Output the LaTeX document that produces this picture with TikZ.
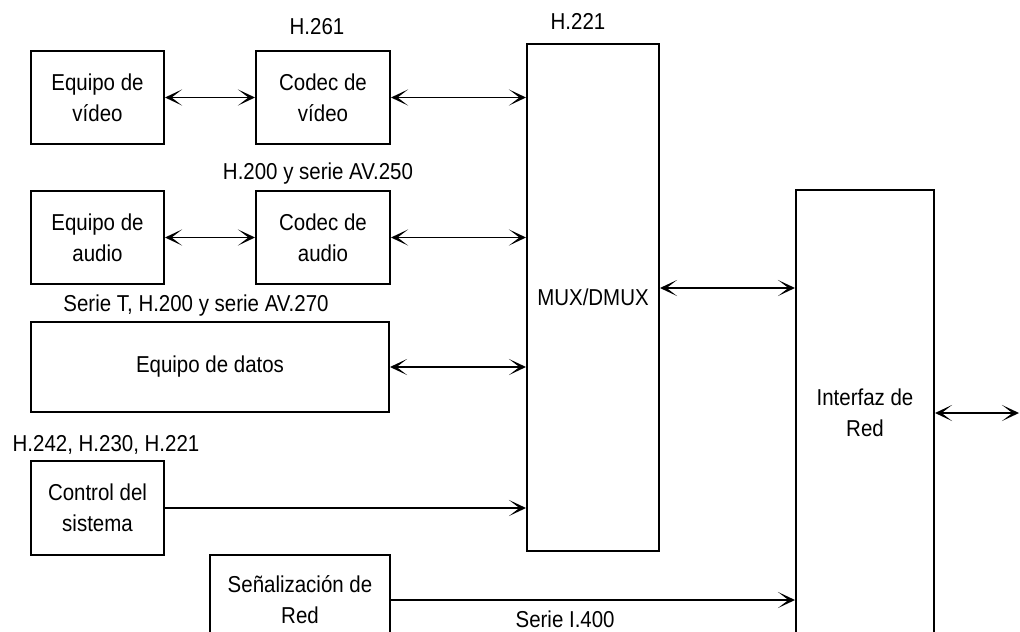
\documentclass[tikz,border=0pt]{standalone}
\usepackage{fontspec}
\setmainfont{Liberation Sans}[FakeStretch=0.89]
\usetikzlibrary{arrows.meta}
\tikzset{
  blk/.style={rectangle, draw=black, line width=1pt, align=center, inner sep=0pt,
              font=\fontsize{11.5}{15.5}\selectfont},
  tag/.style={font=\fontsize{11.5}{12}\selectfont, inner sep=0pt, anchor=base},
  fl/.style={-{Stealth[length=8.5pt,width=8pt,inset=5.2pt]}, line width=0.95pt},
  fla/.style={{Stealth[length=8.5pt,width=8pt,inset=5.2pt]}-{Stealth[length=8.5pt,width=8pt,inset=5.2pt]}, line width=0.95pt}
}

\begin{document}
\begin{tikzpicture}[x=0.5pt, y=-0.5pt]
  \clip (0,0) rectangle (1020,631);
  % terminal equipment
  \node[blk, minimum width=66.5pt, minimum height=46pt] (vid) at (97.5,97.5) {Equipo de\\vídeo};
  \node[blk, minimum width=67pt, minimum height=46pt] (cvid) at (323,97.5) {Codec de\\vídeo};
  \node[blk, minimum width=66.5pt, minimum height=46.5pt] (aud) at (97.5,237.5) {Equipo de\\audio};
  \node[blk, minimum width=67pt, minimum height=46.5pt] (caud) at (323,237.5) {Codec de\\audio};
  \node[blk, minimum width=179pt, minimum height=45pt] (datos) at (210,367) {Equipo de datos};
  \node[blk, minimum width=66.5pt, minimum height=47pt] (ctrl) at (97.5,508) {Control del\\sistema};
  \node[blk, minimum width=90pt, minimum height=45pt] (senal) at (300,600) {Señalización de\\Red};
  % mux and network side
  \node[blk, minimum width=66pt, minimum height=253.5pt] (mux) at (593,297.5) {MUX/DMUX};
  \node[blk, minimum width=69pt, minimum height=223pt] (red) at (865,413) {Interfaz de\\Red};
  \coordinate (ext) at (1019,413);

  % recommendation labels
  \node[tag] (h261) at (317,35) {H.261};
  \node[tag] (h221) at (578,30) {H.221};
  \node[tag] (h200) at (318,179) {H.200 y serie AV.250};
  \node[tag] (seriet) at (196,311) {Serie T, H.200 y serie AV.270};
  \node[tag] (h242) at (106,451) {H.242, H.230, H.221};

  \draw[fla] (vid) -- (cvid);
  \draw[fla] (aud) -- (caud);
  \draw[fla] (cvid.east) -- (cvid.east -| mux.west);
  \draw[fla] (caud.east) -- (caud.east -| mux.west);
  \draw[fla] (datos.east) -- (datos.east -| mux.west);
  \draw[fl] (ctrl.east) -- (ctrl.east -| mux.west);
  \draw[fla] ([yshift=4.75pt]mux.east) -- ([yshift=4.75pt]mux.east -| red.west);
  \draw[fl] (senal.east) -- (senal.east -| red.west)
    node[tag, pos=0.431, yshift=-13.8pt] {Serie I.400};
  \draw[fla] (red.east) -- (ext);
\end{tikzpicture}
\end{document}
